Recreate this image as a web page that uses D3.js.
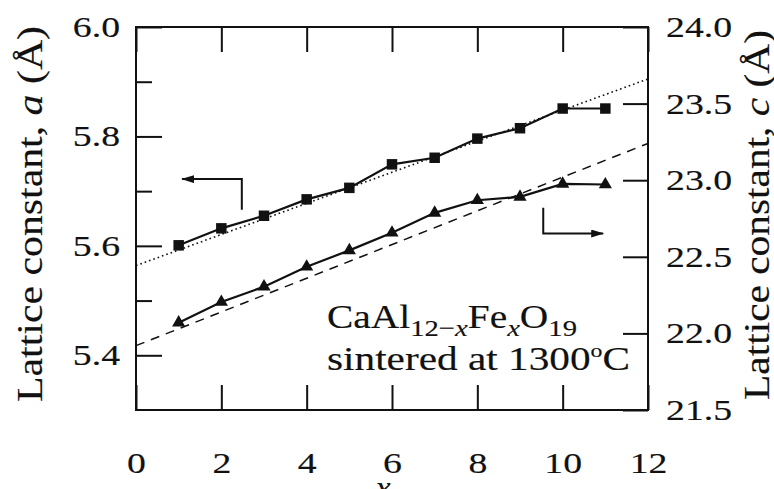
<!DOCTYPE html>
<html>
<head>
<meta charset="utf-8">
<script src="https://cdn.jsdelivr.net/npm/d3@7"></script>
<style>
  body { margin: 0; background: #fff; }
  text { font-family: "Liberation Serif", "Times New Roman", serif; fill: #111; stroke: #111; stroke-width: 0.15px; }
</style>
</head>
<body>
<div id="chart"></div>
<script>
// data
var xs = [1, 2, 3, 4, 5, 6, 7, 8, 9, 10, 11];
var aValues = [5.601, 5.632, 5.655, 5.685, 5.706, 5.749, 5.761, 5.796, 5.815, 5.851, 5.851];
var cValues = [22.07, 22.205, 22.305, 22.435, 22.542, 22.657, 22.787, 22.869, 22.891, 22.976, 22.972];

// linear fits (end points)
var fitX = [0, 12];
var fitA = [5.564, 5.905];
var fitC = [21.92, 23.24];

// tick labels
var xTicks = [0, 2, 4, 6, 8, 10, 12];
var aTicks = [5.4, 5.6, 5.8, 6.0];
var aMinor = [5.5, 5.7, 5.9];
var cTicks = [21.5, 22.0, 22.5, 23.0, 23.5, 24.0];

// arrows pointing to the axis each series belongs to
var arrowA = [[2.48, 5.666], [2.48, 5.722], [1.08, 5.722]];
var arrowC = [[9.545, 22.82], [9.545, 22.652], [10.95, 22.652]];

// set the dimensions and margins of the graph
var margin = {top: 27, right: 126, bottom: 79, left: 136},
    width = 774 - margin.left - margin.right,
    height = 489 - margin.top - margin.bottom;

// the lettering of the original is wide, stretch it a bit
var stretch = 1.28;
function widen(sel, f) {
  sel.each(function() {
    var len = this.getComputedTextLength();
    d3.select(this)
      .attr("textLength", len * (f || stretch))
      .attr("lengthAdjust", "spacingAndGlyphs");
  });
}

var root = d3.select("#chart")
  .append("svg")
    .attr("width", 774)
    .attr("height", 489);

var svg = root.append("g")
    .attr("transform", "translate(" + margin.left + "," + margin.top + ")");

var x = d3.scaleLinear().domain([0, 12]).range([0, width]);
var ya = d3.scaleLinear().domain([5.3, 6.0]).range([height, 0]);
var yc = d3.scaleLinear().domain([21.5, 24.0]).range([height, 0]);

// arrow head
root.append("defs").append("marker")
    .attr("id", "head")
    .attr("viewBox", "0 0 13 8")
    .attr("refX", 12)
    .attr("refY", 4)
    .attr("markerWidth", 13)
    .attr("markerHeight", 8)
    .attr("markerUnits", "userSpaceOnUse")
    .attr("orient", "auto")
  .append("path")
    .attr("d", "M0,0 L13,4 L0,8 Z")
    .attr("fill", "#111");

function styleAxis(g) {
  g.select(".domain").remove();
  g.selectAll(".tick line").attr("stroke", "#111").attr("stroke-width", 2);
  g.selectAll("text")
    .style("font-family", "'Liberation Serif', serif")
    .style("font-size", "29.5px")
    .attr("fill", "#111")
    .call(widen);
}

// bottom axis
svg.append("g")
  .attr("transform", "translate(0," + height + ")")
  .call(d3.axisBottom(x).tickValues(xTicks).tickSize(-25).tickPadding(42).tickFormat(d3.format("d")))
  .call(styleAxis);

// top ticks
svg.append("g")
  .call(d3.axisTop(x).tickValues(xTicks).tickSize(-25).tickFormat(""))
  .call(styleAxis);

// left axis, a
svg.append("g")
  .call(d3.axisLeft(ya).tickValues(aTicks).tickSize(-26).tickPadding(16).tickFormat(d3.format(".1f")))
  .call(styleAxis);
svg.append("g")
  .call(d3.axisLeft(ya).tickValues(aMinor).tickSize(-16).tickFormat(""))
  .call(styleAxis);

// right axis, c
svg.append("g")
  .attr("transform", "translate(" + width + ",0)")
  .call(d3.axisRight(yc).tickValues(cTicks).tickSize(-25).tickPadding(18).tickFormat(d3.format(".1f")))
  .call(styleAxis);

// frame
svg.append("rect")
  .attr("width", width)
  .attr("height", height)
  .attr("fill", "none")
  .attr("stroke", "#111")
  .attr("stroke-width", 2);

// fit lines
svg.append("path")
  .datum(fitX)
  .attr("fill", "none")
  .attr("stroke", "#111")
  .attr("stroke-width", 1.6)
  .attr("stroke-dasharray", "1.6,3")
  .attr("d", d3.line()
    .x(function(d) { return x(d) })
    .y(function(d, i) { return ya(fitA[i]) }));

svg.append("path")
  .datum(fitX)
  .attr("fill", "none")
  .attr("stroke", "#111")
  .attr("stroke-width", 1.5)
  .attr("stroke-dasharray", "9,7")
  .attr("d", d3.line()
    .x(function(d) { return x(d) })
    .y(function(d, i) { return yc(fitC[i]) }));

// data lines
svg.append("path")
  .datum(xs)
  .attr("fill", "none")
  .attr("stroke", "#111")
  .attr("stroke-width", 2.2)
  .attr("d", d3.line()
    .x(function(d) { return x(d) })
    .y(function(d, i) { return ya(aValues[i]) }));

svg.append("path")
  .datum(xs)
  .attr("fill", "none")
  .attr("stroke", "#111")
  .attr("stroke-width", 2.2)
  .attr("d", d3.line()
    .x(function(d) { return x(d) })
    .y(function(d, i) { return yc(cValues[i]) }));

// markers
svg.selectAll("mySquares")
  .data(xs)
  .enter()
  .append("path")
    .attr("fill", "#111")
    .attr("transform", function(d, i) { return "translate(" + x(d) + "," + ya(aValues[i]) + ")" })
    .attr("d", d3.symbol().type(d3.symbolSquare).size(110));

svg.selectAll("myTriangles")
  .data(xs)
  .enter()
  .append("path")
    .attr("fill", "#111")
    .attr("transform", function(d, i) { return "translate(" + x(d) + "," + yc(cValues[i]) + ")" })
    .attr("d", d3.symbol().type(d3.symbolTriangle).size(75));

// arrows
var arrowLine = d3.line();
svg.append("path")
  .attr("fill", "none")
  .attr("stroke", "#111")
  .attr("stroke-width", 2)
  .attr("marker-end", "url(#head)")
  .attr("d", arrowLine(arrowA.map(function(p) { return [x(p[0]), ya(p[1])] })));

svg.append("path")
  .attr("fill", "none")
  .attr("stroke", "#111")
  .attr("stroke-width", 2)
  .attr("marker-end", "url(#head)")
  .attr("d", arrowLine(arrowC.map(function(p) { return [x(p[0]), yc(p[1])] })));

// annotation
var note = root.append("text")
  .attr("x", 327)
  .attr("y", 328)
  .style("font-size", "33px");
note.append("tspan").text("CaAl");
note.append("tspan").attr("dy", 8).style("font-size", "24px").text("12\u2212");
note.append("tspan").style("font-size", "24px").style("font-style", "italic").text("x");
note.append("tspan").attr("dy", -8).text("Fe");
note.append("tspan").attr("dy", 8).style("font-size", "24px").style("font-style", "italic").text("x");
note.append("tspan").attr("dy", -8).text("O");
note.append("tspan").attr("dy", 8).style("font-size", "24px").text("19");
note.attr("textLength", 250).attr("lengthAdjust", "spacingAndGlyphs");

var note2 = root.append("text")
  .attr("x", 327)
  .attr("y", 370)
  .style("font-size", "33px");
note2.append("tspan").text("sintered at 1300");
note2.append("tspan").attr("dy", -13).style("font-size", "19px").text("o");
note2.append("tspan").attr("dy", 13).text("C");
note2.attr("textLength", 303).attr("lengthAdjust", "spacingAndGlyphs");

// axis titles
var leftTitle = root.append("text")
  .attr("transform", "translate(42," + (margin.top + 187) + ") rotate(-90)")
  .attr("text-anchor", "middle")
  .attr("textLength", 376)
  .attr("lengthAdjust", "spacingAndGlyphs")
  .style("font-size", "35px");
leftTitle.append("tspan").text("Lattice constant, ");
leftTitle.append("tspan").style("font-style", "italic").text("a");
leftTitle.append("tspan").text(" (\u00C5)");

var rightTitle = root.append("text")
  .attr("transform", "translate(769," + (margin.top + 188) + ") rotate(-90)")
  .attr("text-anchor", "middle")
  .attr("textLength", 370)
  .attr("lengthAdjust", "spacingAndGlyphs")
  .style("font-size", "35px");
rightTitle.append("tspan").text("Lattice constant, ");
rightTitle.append("tspan").style("font-style", "italic").text("c");
rightTitle.append("tspan").text(" (\u00C5)");

root.append("text")
  .attr("x", 383)
  .attr("y", 499)
  .attr("text-anchor", "middle")
  .style("font-size", "34px")
  .style("font-style", "italic")
  .text("x");
</script>
</body>
</html>
